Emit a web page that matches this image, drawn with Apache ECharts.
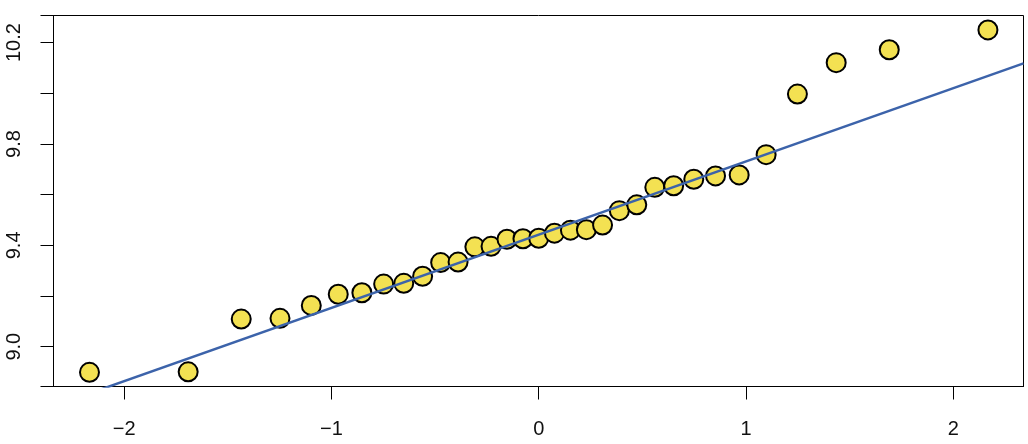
<!DOCTYPE html>
<html>
<head>
<meta charset="utf-8">
<script src="https://cdn.jsdelivr.net/npm/echarts@6/dist/echarts.min.js"></script>
<style>
  html, body { margin: 0; padding: 0; background: #ffffff; }
  #chart { width: 1028px; height: 444px; }
</style>
</head>
<body>
<div id="chart"></div>
<script>
// Theoretical normal quantiles (x)
const theoreticalQuantiles = [
  -2.167, -1.691, -1.435, -1.248, -1.097, -0.967, -0.853, -0.748, -0.651, -0.560,
  -0.473, -0.389, -0.308, -0.230, -0.153, -0.076, 0.000, 0.076, 0.153, 0.230,
  0.308, 0.389, 0.473, 0.560, 0.651, 0.748, 0.853, 0.967, 1.097, 1.248,
  1.435, 1.691, 2.167
];
// Sample quantiles (y)
const sampleQuantiles = [
  8.899, 8.901, 9.109, 9.112, 9.163, 9.207, 9.213, 9.247, 9.250, 9.278,
  9.332, 9.334, 9.394, 9.396, 9.424, 9.426, 9.428, 9.448, 9.460, 9.462,
  9.480, 9.537, 9.560, 9.629, 9.635, 9.661, 9.674, 9.678, 9.758, 9.997,
  10.121, 10.172, 10.250
];
// Reference (qq) line
const lineIntercept = 9.442;
const lineSlope = 0.289;

// Axis ticks / labels
const xTicks = [-2, -1, 0, 1, 2];
const yLabels = [9.0, 9.4, 9.8, 10.2];

const xRange = [-2.3406, 2.3386];
const yRange = [8.843, 10.307];

const points = theoreticalQuantiles.map((x, i) => [x, sampleQuantiles[i]]);
const linePts = xRange.map(x => [x, lineIntercept + lineSlope * x]);

const chart = echarts.init(document.getElementById('chart'), null, { renderer: 'canvas' });
const fontFamily = '"Liberation Sans", Arial, Helvetica, sans-serif';

chart.setOption({
  animation: false,
  backgroundColor: '#ffffff',
  grid: {
    left: 53.5, right: 4.5, top: 15.5, bottom: 57.5,
    show: true, borderColor: '#000000', borderWidth: 1, backgroundColor: 'transparent'
  },
  xAxis: {
    type: 'value',
    min: xRange[0], max: xRange[1],
    axisLine: { show: true, onZero: false, lineStyle: { color: '#000000', width: 1 } },
    splitLine: { show: false },
    axisTick: { show: true, inside: false, length: 13, customValues: xTicks,
      lineStyle: { color: '#000000', width: 1 } },
    axisLabel: {
      show: true, customValues: xTicks, margin: 33,
      fontSize: 20, fontFamily: fontFamily, color: '#111111',
      formatter: v => (v < 0 ? '\u2212' + Math.abs(v) : String(v))
    }
  },
  yAxis: {
    type: 'value',
    min: yRange[0], max: yRange[1],
    splitNumber: 7,
    axisLine: { show: true, onZero: false, lineStyle: { color: '#000000', width: 1 } },
    splitLine: { show: false },
    axisTick: { show: true, inside: false, length: 13,
      lineStyle: { color: '#000000', width: 1 } },
    axisLabel: {
      show: true, margin: 29, rotate: 90,
      fontSize: 20, fontFamily: fontFamily, color: '#111111',
      formatter: v => (yLabels.some(l => Math.abs(l - v) < 1e-6) ? Number(v).toFixed(1) : '')
    }
  },
  series: [
    {
      type: 'scatter',
      data: points,
      symbol: 'circle',
      symbolSize: 19,
      itemStyle: { color: '#F3E152', borderColor: '#000000', borderWidth: 2, opacity: 1 },
      z: 2
    },
    {
      type: 'line',
      data: linePts,
      showSymbol: false,
      symbol: 'none',
      clip: true,
      lineStyle: { color: '#3C63AA', width: 2.5 },
      z: 3
    }
  ]
});
</script>
</body>
</html>
